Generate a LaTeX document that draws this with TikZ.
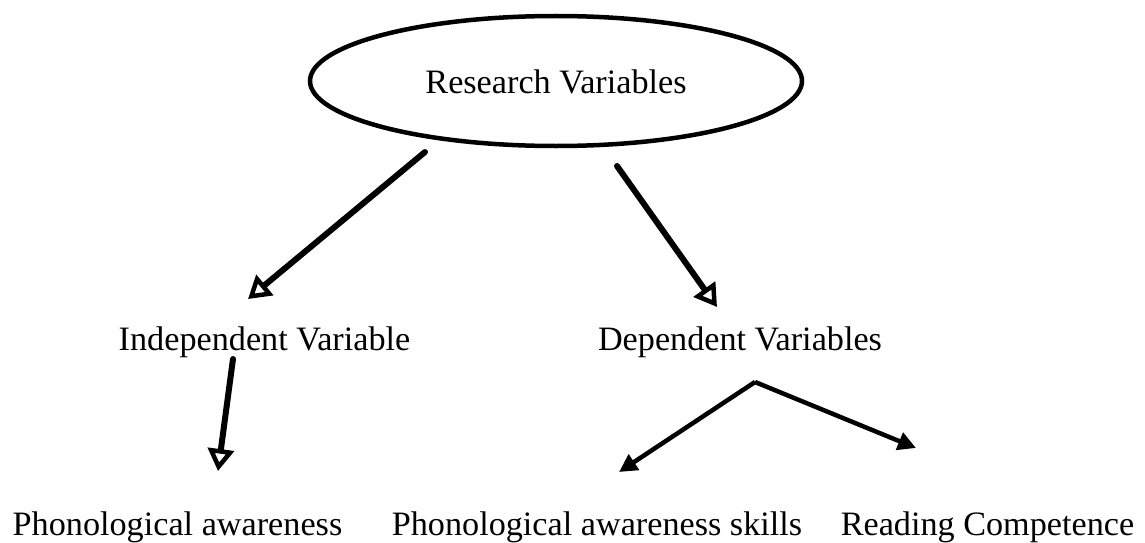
\documentclass[tikz,border=0pt]{standalone}
\usepackage{fontspec}
\setmainfont{Liberation Serif}
\usetikzlibrary{arrows.meta}
\begin{document}
\begin{tikzpicture}[x=1pt,y=-1pt,
  label/.style={inner sep=0pt,anchor=base,font=\fontsize{34.2}{40}\selectfont},
  openarrow/.style={line width=6pt,line cap=round,
    -{Triangle[open,length=22pt,width=26pt,line width=4.5pt]}},
  solidarrow/.style={line width=4.5pt,
    -{Triangle[length=18pt,width=18pt]}}]
\useasboundingbox (0,0) rectangle (1145,543);

% top ellipse with its title
\draw[line width=4.5pt] (556,81) ellipse [x radius=246pt, y radius=65pt];
\node[label] (root) at (556,93) {Research Variables};

% second level
\node[label] (indep) at (264.5,350) {Independent Variable};
\node[label] (dep)   at (740,350) {Dependent Variables};

% bottom level
\node[label] (pa)   at (177.5,535) {Phonological awareness};
\node[label] (pas)  at (597,535) {Phonological awareness skills};
\node[label] (rc)   at (987.5,535) {Reading Competence};

% connector end points
\coordinate (r1) at (425,152);
\coordinate (t1) at (248,299);
\coordinate (r2) at (617,166);
\coordinate (t2) at (717,307);
\coordinate (i1) at (233,359);
\coordinate (t3) at (218,471);
\coordinate (fork) at (755,382);
\coordinate (t4) at (619,472);
\coordinate (t5) at (916,448);

\draw[openarrow] (r1) -- (t1);
\draw[openarrow] (r2) -- (t2);
\draw[openarrow] (i1) -- (t3);
\draw[solidarrow] (fork) -- (t4);
\draw[solidarrow] (fork) -- (t5);
\end{tikzpicture}
\end{document}
